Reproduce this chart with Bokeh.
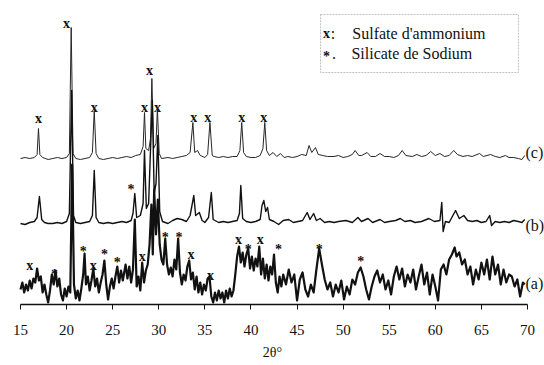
from bokeh.plotting import figure
from bokeh.models import Label, FixedTicker, Range1d, BoxAnnotation, LinearAxis
from bokeh.core.properties import value
from bokeh.embed import file_html
from bokeh.resources import INLINE

# ---------------- data ----------------
TICKS = [15, 20, 25, 30, 35, 40, 45, 50, 55, 60, 65, 70]

# curve (c): 2theta and relative intensity above its own baseline
C_X = [15.0, 15.5, 16.0, 16.5, 16.8, 16.95, 17.1, 17.4, 18.0, 18.5, 19.0, 19.5, 20.0, 20.3, 20.5, 20.7,
       21.0, 21.5, 22.0, 22.5, 22.8, 23.0, 23.2, 23.5, 24.0, 24.5, 25.0, 25.5, 26.0, 26.5, 27.0, 27.5,
       28.0, 28.3, 28.45, 28.6, 28.9, 29.1, 29.25, 29.45, 29.7, 29.85, 30.05, 30.3, 31.0, 31.5, 32.0,
       32.5, 33.0, 33.4, 33.7, 33.9, 34.2, 34.5, 35.0, 35.3, 35.55, 35.8, 36.0, 36.5, 37.0, 37.5, 38.0,
       38.5, 38.8, 39.0, 39.2, 39.5, 40.0, 40.5, 41.0, 41.3, 41.5, 41.7, 42.0, 42.4, 42.8, 43.2, 43.6,
       44.0, 44.5, 45.0, 45.5, 46.0, 46.3, 46.6, 47.0, 47.3, 47.8, 48.3, 49.0, 49.5, 50.0, 50.5, 51.0,
       51.3, 51.7, 52.0, 52.6, 53.0, 53.5, 54.0, 54.5, 55.0, 55.5, 56.0, 56.4, 56.8, 57.5, 58.0, 58.5,
       59.0, 59.5, 60.0, 60.5, 61.0, 61.5, 62.0, 62.4, 63.0, 63.5, 64.0, 64.8, 65.2, 66.0, 66.5, 67.0,
       67.6, 68.0, 68.5, 69.0, 69.4, 69.7]
C_Y = [0, 1, 0, 1, 4, 30, 4, 1, -1, 0, 1, 0, 1, 5, 131, 5,
       0, -1, 0, 1, 6, 48, 5, 0, -1, 0, 1, 0, 1, 2, 1, 3,
       4, 12, 46, 10, 8, 20, 80, 10, 15, 50, 5, 0, 1, 0, 1,
       2, 3, 6, 36, 6, 8, 3, 1, 4, 36, 3, 2, 1, 2, 1, 2,
       2, 8, 36, 6, 2, 1, 1, 3, 10, 36, 8, 3, 6, 2, 5, 1,
       2, 1, 2, 4, 3, 13, 6, 11, 4, 3, 2, 2, 3, 1, 2, 4,
       8, 3, 3, 6, 2, 2, 5, 2, 2, 1, 3, 8, 3, 2, 4, 2,
       3, 7, 3, 5, 2, 3, 8, 4, 2, 3, 2, 5, 2, 4, 2, 1,
       3, 1, 1, 0, -1, 3]

# curve (b)
B_X = [15.0, 15.5, 16.0, 16.5, 16.8, 17.05, 17.3, 17.6, 18.0, 18.5, 19.0, 19.5, 20.0, 20.3, 20.55, 20.75,
       21.0, 21.5, 22.0, 22.5, 22.8, 23.0, 23.2, 23.5, 24.0, 24.5, 25.0, 25.5, 26.0, 26.5, 27.0, 27.2,
       27.4, 27.6, 28.0, 28.3, 28.45, 28.65, 28.9, 29.05, 29.3, 29.5, 29.7, 29.9, 30.1, 30.4, 31.0,
       31.5, 32.0, 32.5, 33.0, 33.4, 33.8, 34.0, 34.4, 34.7, 35.0, 35.4, 35.7, 35.9, 36.5, 37.0, 37.5,
       38.0, 38.5, 38.75, 38.9, 39.1, 39.5, 40.0, 40.5, 41.0, 41.2, 41.4, 41.6, 41.8, 42.0, 42.5, 43.0,
       43.5, 44.1, 44.6, 45.1, 45.6, 46.1, 46.4, 46.8, 47.1, 47.5, 48.0, 48.5, 49.0, 49.5, 50.3, 51.0,
       51.6, 52.0, 52.7, 53.2, 54.0, 54.5, 55.0, 55.7, 56.2, 56.7, 57.3, 57.8, 58.5, 59.3, 59.9, 60.5,
       60.7, 60.85, 61.1, 61.5, 62.2, 62.6, 63.1, 63.5, 64.0, 64.5, 65.0, 65.5, 65.9, 66.1, 66.5, 67.0,
       67.5, 68.0, 68.5, 69.0, 69.4, 69.7]
B_Y = [0, -1, 1, 2, 6, 27, 4, 1, 0, 0, 1, 0, 2, 10, 133, 8,
       1, 0, 1, 2, 8, 53, 6, 1, 0, 1, 0, 1, 2, 1, 3, 10,
       30, 6, 8, 20, 73, 15, 20, 60, 123, 30, 40, 88, 12, 2, 0,
       3, 5, 4, 2, 8, 28, 8, 11, 3, 1, 6, 31, 4, 1, 2, 1,
       2, 3, 10, 38, 5, 2, 1, 2, 4, 18, 23, 12, 16, 4, 2, -1,
       3, 4, 1, 2, 3, 11, 4, 10, 3, 5, 1, 2, 1, 2, 3, 1,
       6, 2, 5, 1, 4, 1, 2, 3, 5, 2, 3, 1, 2, 5, 2, 3,
       21, -8, 2, 1, 13, 5, 8, 3, 2, 3, 1, 2, 8, -2, 2, 1,
       2, 1, 3, 2, 1, 4]

# curve (a): absolute intensity (noisy)
A_X = [15.0, 15.2, 15.4, 15.6, 15.8, 16.0, 16.2, 16.4, 16.6, 16.8, 17.0, 17.2, 17.4, 17.6, 17.8, 18.0,
       18.2, 18.4, 18.6, 18.8, 19.0, 19.2, 19.4, 19.6, 19.8, 20.0, 20.2, 20.4, 20.6, 20.8, 21.0, 21.2,
       21.4, 21.6, 21.8, 21.95, 22.1, 22.3, 22.5, 22.7, 22.9, 23.1, 23.3, 23.5, 23.7, 23.9, 24.1, 24.3,
       24.5, 24.7, 24.9, 25.1, 25.3, 25.5, 25.7, 25.9, 26.1, 26.4, 26.6, 26.8, 27.0, 27.2, 27.4, 27.6,
       27.8, 28.0, 28.2, 28.4, 28.6, 28.8, 29.0, 29.2, 29.35, 29.5, 29.7, 29.9, 30.1, 30.3, 30.5, 30.7,
       30.9, 31.1, 31.3, 31.5, 31.7, 31.9, 32.1, 32.3, 32.5, 32.7, 32.9, 33.1, 33.3, 33.5, 33.7, 33.9,
       34.1, 34.3, 34.5, 34.7, 34.9, 35.1, 35.3, 35.5, 35.7, 35.9, 36.1, 36.3, 36.5, 36.7, 36.9, 37.1,
       37.3, 37.5, 37.7, 37.9, 38.1, 38.3, 38.5, 38.7, 38.9, 39.1, 39.3, 39.5, 39.7, 39.9, 40.1, 40.3,
       40.5, 40.7, 40.9, 41.1, 41.3, 41.5, 41.7, 41.9, 42.1, 42.3, 42.5, 42.7, 42.9, 43.1, 43.3, 43.5,
       43.8, 44.1, 44.4, 44.7, 45.0, 45.3, 45.6, 45.9, 46.2, 46.5, 46.8, 47.1, 47.4, 47.7, 48.0, 48.3,
       48.6, 48.9, 49.2, 49.5, 49.8, 50.1, 50.4, 50.7, 51.0, 51.3, 51.6, 51.9, 52.2, 52.5, 52.8, 53.1,
       53.4, 53.7, 54.0, 54.3, 54.6, 54.9, 55.2, 55.5, 55.8, 56.1, 56.4, 56.7, 57.0, 57.3, 57.6, 57.9,
       58.2, 58.5, 58.8, 59.1, 59.4, 59.7, 60.0, 60.3, 60.6, 60.9, 61.2, 61.5, 61.8, 62.1, 62.3, 62.6,
       62.9, 63.2, 63.5, 63.8, 64.1, 64.4, 64.7, 65.0, 65.3, 65.6, 65.9, 66.2, 66.5, 66.8, 67.1, 67.4,
       67.7, 68.0, 68.3, 68.6, 68.9, 69.2, 69.5, 69.7]
A_Y = [15, 22, 12, 20, 14, 24, 16, 26, 22, 36, 24, 28, 12, 20, 10, 2,
       14, 30, 20, 34, 18, 26, 10, 4, 16, 8, 18, 12, 140, 20, 6, 14,
       4, 16, 30, 51, 20, 28, 14, 24, 36, 18, 26, 12, 22, 30, 44, 20,
       5, 18, 26, 16, 28, 38, 22, 34, 24, 40, 26, 38, 22, 35, 85, 18,
       28, 14, 42, 22, 34, 40, 60, 100, 50, 115, 70, 105, 60, 45, 40, 66,
       40, 30, 37, 28, 45, 35, 66, 32, 20, 30, 24, 38, 44, 25, 32, 15,
       28, 12, 22, 10, 20, 14, 26, 28, 8, 2, 12, 4, 14, 6, 12, 2,
       14, 6, 16, 8, 14, 30, 48, 58, 42, 52, 38, 50, 56, 36, 48, 34,
       46, 38, 58, 30, 46, 26, 40, 24, 38, 30, 50, 22, 12, 28, 18, 30,
       20, 35, 22, 30, 4, 25, 32, 15, 8, 20, 12, 35, 56, 40, 25, 15,
       22, 8, 20, 12, 24, 5, 18, 10, 25, 20, 32, 37, 28, 15, 5, 18,
       28, 34, 22, 30, 15, 24, 10, 28, 38, 25, 36, 18, 30, 22, 35, 15,
       28, 40, 20, 32, 10, 30, 18, 4, 35, 40, 30, 45, 50, 57, 48, 52,
       40, 45, 30, 38, 20, 35, 25, 42, 30, 45, 25, 48, 30, 40, 20, 35,
       22, 30, 28, 18, 25, 8, 22, 20]

# peak markers (2theta, height)
C_XMARK_X = [16.95, 20.0, 23.0, 28.45, 29.0, 29.85, 33.8, 35.3, 39.0, 41.4]
C_XMARK_Y = [186, 281, 197, 197, 234, 197, 187, 187, 187, 187]
B_STAR_X = [27.0]
B_STAR_Y = [119]
A_XMARK_X = [16.0, 22.9, 28.2, 33.5, 35.6, 38.65, 41.0]
A_XMARK_Y = [39, 39, 48, 50, 29, 65, 65]
A_STAR_X = [18.7, 21.8, 24.1, 25.5, 30.7, 32.2, 39.7, 43.0, 47.4, 51.9]
A_STAR_Y = [34, 57, 54, 46, 71, 71, 59, 59, 59, 47]

OFFSET_C = 146
OFFSET_B = 81

SERIF = "Liberation Serif"
ink = "#111111"

# ---------------- figure ----------------
p = figure(width=544, height=365, output_backend="svg", toolbar_location=None,
           x_range=Range1d(12.830, 71.845), y_range=Range1d(0, 304),
           min_border_left=0, min_border_right=0, min_border_top=0, min_border_bottom=61,
           y_axis_location=None)
p.outline_line_color = None
p.grid.visible = False
p.background_fill_color = "white"
p.border_fill_color = "white"

p.line(C_X, [y + OFFSET_C for y in C_Y], line_color="#262626", line_width=1.0, line_join="round")
p.line(B_X, [y + OFFSET_B for y in B_Y], line_color=ink, line_width=1.4, line_join="round")
p.line(A_X, A_Y, line_color=ink, line_width=2.2, line_join="round")

mark_style = dict(text_font=value(SERIF), text_font_style="bold", text_font_size="14px",
                  text_align="center", text_baseline="middle", text_color=ink)
p.text(x=C_XMARK_X, y=C_XMARK_Y, text=["x"] * len(C_XMARK_X), **mark_style)
p.text(x=A_XMARK_X, y=A_XMARK_Y, text=["x"] * len(A_XMARK_X), **mark_style)
p.text(x=B_STAR_X, y=B_STAR_Y, text=["*"] * len(B_STAR_X), y_offset=4, **mark_style)
p.text(x=A_STAR_X, y=A_STAR_Y, text=["*"] * len(A_STAR_X), y_offset=4, **mark_style)

# curve labels
for txt, yy in [("(c)", 152), ("(b)", 79), ("(a)", 21)]:
    p.add_layout(Label(x=69.78, y=yy, text=txt, text_font=SERIF, text_font_size="16px",
                       text_align="left", text_baseline="middle", text_color=ink))

# x axis
ax = p.xaxis[0]
ax.bounds = (15, 70)
ax.ticker = FixedTicker(ticks=TICKS)
ax.axis_line_color = ink
ax.axis_line_width = 1.5
ax.major_tick_line_color = ink
ax.major_tick_out = 5
ax.major_tick_in = 0
ax.minor_tick_out = 0
ax.minor_tick_in = 0
ax.major_label_standoff = 15
ax.major_label_text_font = SERIF
ax.major_label_text_font_size = "15px"
ax.major_label_text_color = ink

# axis title carried by a bare second axis so that it centres where the original does
title_axis = LinearAxis(bounds=(15, 68.7), ticker=FixedTicker(ticks=[]),
                        axis_line_color=None, major_tick_line_color=None,
                        minor_tick_line_color=None, major_label_text_font_size="0px",
                        axis_label="2θ°", axis_label_standoff=7,
                        axis_label_text_font=SERIF, axis_label_text_font_size="14px",
                        axis_label_text_font_style="normal", axis_label_text_color=ink)
p.add_layout(title_axis, "below")

# legend box
p.add_layout(BoxAnnotation(left=47.55, right=69.02, bottom=232, top=290,
                           fill_alpha=0, line_color="#333333", line_width=1, line_dash="2 1"))
leg = dict(text_font=SERIF, text_font_size="16px", text_baseline="middle", text_color=ink)
p.add_layout(Label(x=48.2, y=271, text="x", text_align="center", text_font_style="bold",
                   text_font=SERIF, text_font_size="14px", text_baseline="middle", text_color=ink))
p.add_layout(Label(x=48.9, y=271, text=":", text_align="center", **leg))
p.add_layout(Label(x=51.0, y=271, text="Sulfate d'ammonium", text_align="left", **leg))
p.add_layout(Label(x=48.2, y=248, text="*", text_align="center", text_font_style="bold",
                   text_font=SERIF, text_font_size="14px", text_baseline="middle", text_color=ink))
p.add_layout(Label(x=49.0, y=251, text=".", text_align="center", **leg))
p.add_layout(Label(x=50.9, y=251, text="Silicate de Sodium", text_align="left", **leg))

open("out.html", "w").write(file_html(p, INLINE))
